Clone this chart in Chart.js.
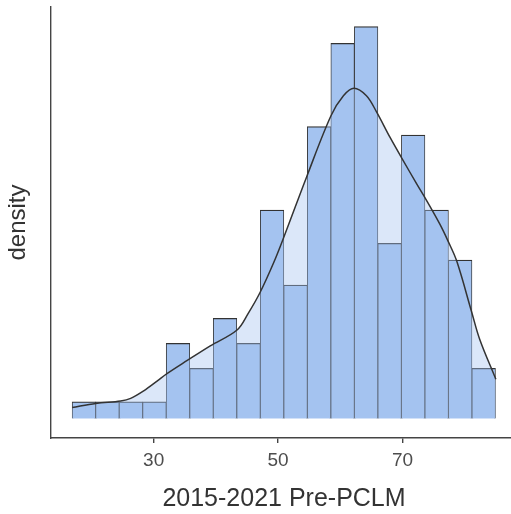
<!DOCTYPE html>
<html lang="en">
  <head>
    <meta charset="UTF-8" />
    <title>2015-2021 Pre-PCLM density</title>
    <script src="https://cdn.jsdelivr.net/npm/chart.js"></script>
    <style>
      html, body { margin: 0; padding: 0; background: #fff; overflow: hidden; }
    </style>
  </head>
  <body>
    <canvas id="histChart" width="518" height="514"></canvas>
    <script>
      // histogram bins
      const binStart = 16.9;
      const binWidth = 3.78;
      const binCounts = [2, 2, 2, 2, 9, 6, 12, 9, 25, 16, 35, 45, 47, 21, 34, 25, 19, 6];

      // kde curve, same vertical units as the bars
      const kdeX = [16.9, 20.7, 24.7, 26.3, 28.4, 30.6, 32.2, 35.4, 39.1, 43.4, 45.2, 47.1, 49.3, 50.9,
        54.6, 58.5, 60.5, 62.2, 64.2, 65.8, 68.0, 69.9, 72.3, 73.9, 76.0, 77.3, 78.7, 81.1, 82.4, 85.0];
      const kdeY = [1.3, 1.8, 2.1, 2.4, 3.3, 4.5, 5.4, 6.95, 8.7, 10.6, 12.6, 15.1, 18.7, 21.7,
        29.0, 36.3, 38.7, 39.6, 38.7, 36.8, 33.7, 31.2, 28.1, 26.1, 23.3, 21.3, 18.9, 12.8, 9.5, 4.7];

      const xTicks = [30, 50, 70];

      Chart.defaults.font.family = "'Liberation Sans', Arial, sans-serif";

      function drawChart() {
        const bars = binCounts.map((c, i) => ({ x: binStart + (i + 0.5) * binWidth, y: c }));
        const kde = kdeX.map((x, i) => ({ x: x, y: kdeY[i] }));

        const ctx = document.getElementById("histChart").getContext("2d");
        new Chart(ctx, {
          type: "bar",
          data: {
            datasets: [
              {
                type: "line",
                data: kde,
                order: 1,
                borderColor: "#333333",
                borderWidth: 1.5,
                pointRadius: 0,
                tension: 0.35,
                fill: "origin",
                backgroundColor: "rgba(164, 195, 240, 0.4)",
              },
              {
                type: "bar",
                data: bars,
                order: 2,
                backgroundColor: "#a4c3f0",
                borderColor: "#333333",
                borderWidth: { top: 1.3, bottom: 1.3, left: 0.9, right: 0.9 },
                barPercentage: 1,
                categoryPercentage: 1,
                grouped: false,
              },
            ],
          },
          options: {
            responsive: false,
            animation: false,
            layout: { padding: { top: 7, right: 1, left: 0, bottom: 0 } },
            plugins: {
              legend: { display: false },
              tooltip: { enabled: false },
            },
            scales: {
              x: {
                type: "linear",
                offset: false,
                min: 13.5,
                max: 88.4,
                afterBuildTicks: (s) => { s.ticks = xTicks.map((v) => ({ value: v })); },
                afterFit: (s) => { s.height = 76; },
                border: { display: true, color: "#444444", width: 1.4 },
                grid: { display: true, offset: false, drawOnChartArea: false, drawTicks: true, tickLength: 5, color: "#444444", lineWidth: 1.4 },
                ticks: { color: "#4d4d4d", font: { size: 19 }, padding: 6, maxRotation: 0 },
                title: { display: true, text: "2015-2021 Pre-PCLM", color: "#333333", font: { size: 25 }, padding: { top: 0, bottom: 0 } },
              },
              y: {
                min: -2.35,
                max: 49.35,
                afterFit: (s) => { s.width = 51; },
                border: { display: true, color: "#444444", width: 1.4 },
                grid: { display: false },
                ticks: { display: false },
                title: { display: true, text: "density", color: "#333333", font: { size: 24 }, padding: { top: 4, bottom: 0 } },
              },
            },
          },
        });
      }

      drawChart();
    </script>
  </body>
</html>
